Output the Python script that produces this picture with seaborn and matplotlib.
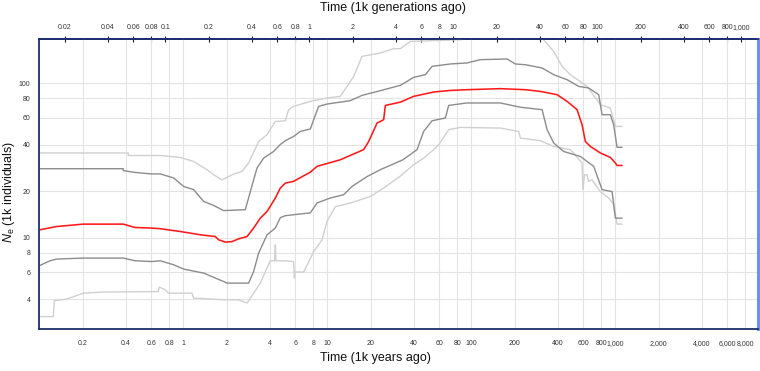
import numpy as np
import matplotlib
matplotlib.use("Agg")
import matplotlib.pyplot as plt
import seaborn as sns
from matplotlib.ticker import FixedLocator, FixedFormatter, NullLocator

# time in 1k years ago, Ne in 1k individuals
med_t = [0.101, 0.132, 0.202, 0.383, 0.462, 0.600, 0.692, 0.953, 1.313, 1.668, 1.758, 1.957, 2.179,
         2.421, 2.770, 3.077, 3.425, 3.813, 4.355, 4.717, 5.109, 5.834, 7.620, 8.483, 12.31, 17.87,
         19.36, 22.14, 24.60, 25.28, 32.13, 39.75, 54.73, 71.48, 93.35, 159.0, 237.1, 301.5, 393.7,
         461.9, 542.0, 587.2, 618.9, 670.5, 786.8, 923.2, 1000, 1027, 1113]
med_ne = [11.27, 11.83, 12.26, 12.26, 11.66, 11.56, 11.45, 10.98, 10.46, 10.19, 9.71, 9.38, 9.45,
          9.85, 10.19, 11.56, 13.4, 14.8, 18.1, 21.0, 22.6, 23.2, 26.6, 29.0, 32.0, 37.2,
          42.0, 55.3, 58.1, 71.9, 75.5, 82.3, 87.8, 89.9, 90.9, 92.3, 90.9, 88.6, 84.4,
          76.4, 67.5, 53.9, 42.0, 39.0, 35.4, 33.1, 30.5, 29.4, 29.4]

hi50_t = [0.101, 0.383, 0.383, 0.462, 0.600, 0.692, 0.856, 1.005, 1.179, 1.384, 1.623, 1.905, 2.695,
          2.919, 3.249, 3.611, 4.238, 4.717, 5.109, 5.834, 6.494, 7.620, 8.034, 8.703, 9.952, 14.44,
          17.42, 23.34, 32.13, 39.75, 47.93, 53.35, 71.48, 93.35, 115.5, 177.0, 202.1, 237.1, 309.8,
          372.8, 461.9, 556.0, 652.5, 765.6, 808.4, 923.2, 973.2, 1027, 1113]
hi50_ne = [28.0, 28.0, 27.2, 26.5, 25.9, 25.9, 24.4, 21.5, 20.5, 17.2, 16.2, 15.0, 15.2,
           19.9, 28.3, 32.8, 36.2, 40.2, 42.5, 45.3, 48.8, 50.6, 58.1, 70.9, 73.4, 77.2,
           83.5, 89.6, 97.0, 109.2, 113.7, 128.7, 133.4, 135.4, 142.2, 143.7, 133.4, 131.9, 125.6,
           113.7, 105.5, 95.5, 93.2, 84.4, 62.6, 62.6, 53.9, 38.5, 38.5]

lo50_t = [0.101, 0.1095, 0.1187, 0.132, 0.202, 0.383, 0.462, 0.604, 0.692, 0.856, 1.005, 1.384, 1.905,
          2.011, 2.841, 3.077, 3.334, 3.813, 4.355, 4.717, 5.109, 5.834, 7.620, 8.483, 10.49, 12.98,
          14.84, 18.87, 23.34, 33.5, 41.97, 46.65, 53.35, 65.99, 69.57, 93.35, 159.0, 218.9, 309.8,
          335.6, 372.8, 437.5, 571.3, 707.0, 808.4, 948.7, 1000, 1113]
lo50_ne = [6.62, 6.86, 7.10, 7.28, 7.39, 7.39, 7.10, 7.02, 7.10, 6.69, 6.27, 5.91, 5.21,
           5.09, 5.09, 6.05, 7.96, 10.46, 11.56, 13.5, 13.9, 14.1, 14.5, 16.8, 18.1, 19.0,
           21.5, 24.9, 27.6, 32.0, 37.2, 48.8, 57.2, 59.6, 71.9, 74.6, 74.6, 70.0, 67.5,
           50.1, 41.1, 36.2, 33.6, 29.0, 20.5, 19.9, 13.4, 13.4]

hi95_t = [0.101, 0.415, 0.415, 0.692, 0.953, 1.179, 1.461, 1.623, 1.857, 2.179, 2.556, 2.841, 3.334,
          3.813, 4.355, 5.109, 5.386, 5.834, 7.620, 9.952, 12.31, 15.23, 17.42, 23.34, 28.87, 32.13,
          37.71, 86.2, 95.0, 280.0, 317.8, 372.8, 426.5, 486.9, 636.0, 786.8, 923.2, 1000, 1113]
hi95_ne = [35.4, 35.4, 34.1, 34.1, 33.1, 31.2, 27.6, 25.6, 23.7, 25.6, 26.9, 30.5, 42.0,
           46.5, 56.6, 57.2, 67.5, 70.9, 76.4, 80.3, 82.3, 110.8, 149.4, 157.1, 167.6, 167.6,
           186.8, 191.6, 220.0, 220.0, 191.6, 160.9, 128.7, 113.7, 95.5, 72.7, 69.2, 52.6, 52.6]

lo95_t = [0.101, 0.1251, 0.127, 0.1547, 0.202, 0.271, 0.671, 0.68, 0.75, 0.7905, 1.149, 1.179, 1.905,
          2.421, 2.770, 2.919, 3.425, 3.711, 4.019, 4.30, 4.355, 4.39, 5.109, 5.834, 5.90, 5.97,
          6.846, 8.034, 9.189, 9.952, 11.36, 14.44, 19.89, 24.60, 31.27, 39.75, 46.65, 54.73, 59.29,
          69.57, 83.87, 159.0, 213.1, 218.9, 301.5, 372.8, 486.9, 587.2, 595.0, 610.0, 636.0, 650.0,
          689.0, 786.8, 898.4, 973.2, 1027, 1113]
lo95_ne = [3.09, 3.09, 3.91, 4.01, 4.38, 4.45, 4.49, 4.8, 4.6, 4.38, 4.38, 4.07, 3.97,
           3.97, 3.78, 4.07, 5.09, 6.05, 7.10, 7.10, 9.01, 7.10, 7.10, 7.02, 5.48, 6.0,
           6.0, 8.15, 9.71, 12.8, 15.9, 16.8, 18.5, 21.0, 24.6, 29.7, 32.8, 37.2, 40.0,
           50.1, 51.8, 51.3, 48.8, 44.2, 42.5, 39.0, 37.2, 30.5, 20.5, 25.6, 25.6, 23.2,
           23.7, 19.9, 18.1, 16.5, 12.26, 12.26]

year_ticks = [0.2, 0.4, 0.6, 0.8, 1, 2, 4, 6, 8, 10, 20, 40, 60, 80, 100, 200, 400, 600, 800,
              1000, 2000, 4000, 6000, 8000]
year_labels = ["0.2", "0.4", "0.6", "0.8", "1", "2", "4", "6", "8", "10", "20", "40", "60", "80",
               "100", "200", "400", "600", "800", "1,000", "2,000", "4,000", "6,000", "8,000"]
gen_ticks = [0.02, 0.04, 0.06, 0.08, 0.1, 0.2, 0.4, 0.6, 0.8, 1, 2, 4, 6, 8, 10, 20, 40, 60, 80,
             100, 200, 400, 600, 800, 1000]
gen_labels = ["0.02", "0.04", "0.06", "0.08", "0.1", "0.2", "0.4", "0.6", "0.8", "1", "2", "4",
              "6", "8", "10", "20", "40", "60", "80", "100", "200", "400", "600", "800", "1,000"]
ne_ticks = [4, 6, 8, 10, 20, 40, 60, 80, 100]
ne_labels = ["4", "6", "8", "10", "20", "40", "60", "80", "100"]
gen_time = 7.5

sns.set_style("white")
plt.rcParams["font.family"] = ["Liberation Sans", "DejaVu Sans"]
plt.rcParams["mathtext.fontset"] = "custom"
plt.rcParams["mathtext.it"] = "Liberation Sans:italic"
plt.rcParams["mathtext.rm"] = "Liberation Sans"

W, H = 760, 371
fig = plt.figure(figsize=(W / 100, H / 100), dpi=100)
L, R, T, B = 39.3, 757.5, 39.0, 329.3
ax = fig.add_axes([L / W, 1 - B / H, (R - L) / W, (B - T) / H])

light = "#d0d0d0"
dark = "#8c8c8c"
for t, ne, c, w in [(hi95_t, hi95_ne, light, 1.0), (lo95_t, lo95_ne, light, 1.0),
                    (hi50_t, hi50_ne, dark, 1.0), (lo50_t, lo50_ne, dark, 1.0),
                    (med_t, med_ne, "#ff1a1a", 1.15)]:
    sns.lineplot(x=t, y=ne, ax=ax, color=c, lw=w, estimator=None, sort=False)

ax.set_xscale("log")
ax.set_yscale("log")
ax.set_xlim(0.1, 9700)
ax.set_ylim(2.557, 193.5)

ax.xaxis.set_major_locator(FixedLocator(year_ticks))
ax.xaxis.set_major_formatter(FixedFormatter(year_labels))
ax.xaxis.set_minor_locator(NullLocator())
ax.yaxis.set_major_locator(FixedLocator(ne_ticks))
ax.yaxis.set_major_formatter(FixedFormatter(ne_labels))
ax.yaxis.set_minor_locator(NullLocator())
ax.grid(True, color="#e4e4e4", lw=0.8)
ax.set_axisbelow(True)

ax.tick_params(axis="x", direction="inout", length=5, width=0.8, color="#222222",
               labelsize=5.0, labelcolor="#333333", pad=5)
ax.tick_params(axis="y", direction="inout", length=5, width=0.8, color="#222222",
               labelsize=5.0, labelcolor="#333333", pad=3.8)

sec = ax.secondary_xaxis("top", functions=(lambda x: x / gen_time, lambda x: x * gen_time))
sec.xaxis.set_major_locator(FixedLocator(gen_ticks))
sec.xaxis.set_major_formatter(FixedFormatter(gen_labels))
sec.xaxis.set_minor_locator(NullLocator())
sec.tick_params(axis="x", direction="inout", length=5, width=0.8, color="#222222",
                labelsize=5.0, labelcolor="#333333", pad=3.3)
sec.spines["top"].set_color("#1c2f6e")
sec.spines["top"].set_linewidth(1.3)

navy = "#1c2f6e"
for s in ["left", "bottom", "top"]:
    ax.spines[s].set_color(navy)
    ax.spines[s].set_linewidth(1.3)
ax.spines["right"].set_color("#6d8ff0")
ax.spines["right"].set_linewidth(2.2)

ax.set_xlabel("")
ax.set_ylabel("")
fig.text(320 / W, 1 - 8 / H, "Time (1k generations ago)", fontsize=9, ha="left", va="center",
         color="#111111")
fig.text(320 / W, 1 - 358 / H, "Time (1k years ago)", fontsize=9, ha="left", va="center",
         color="#111111")
fig.text(9 / W, 1 - 192 / H, r"$N_{\mathrm{e}}$ (1k individuals)", fontsize=9, rotation=90,
         ha="center", va="center", color="#111111")

fig.savefig("out.png", dpi=100)
